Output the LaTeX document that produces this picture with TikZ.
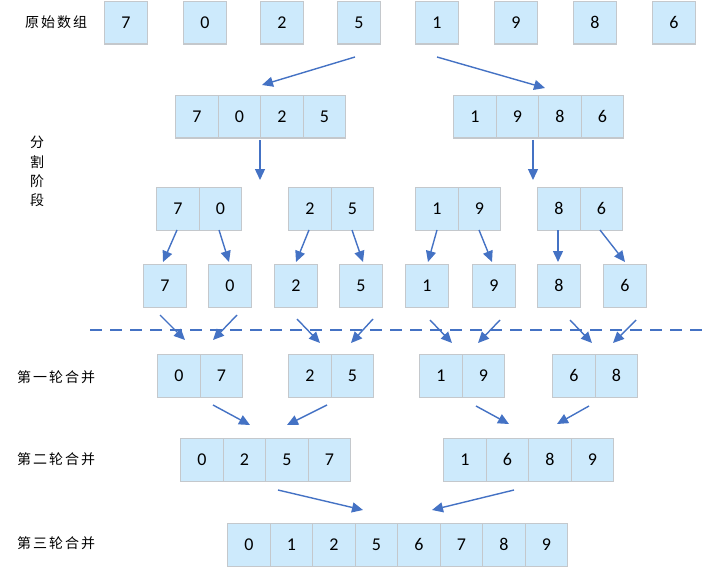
\documentclass[tikz,border=0pt]{standalone}
\usepackage{fontspec}
\setmainfont{Carlito}
\newfontfamily\cjk[LetterSpace=14]{Noto Sans CJK SC}
\usetikzlibrary{arrows.meta}
\definecolor{cellfill}{RGB}{205,234,252}
\definecolor{cellborder}{RGB}{196,200,204}
\definecolor{arrblue}{RGB}{68,114,196}
\tikzset{
  cell/.style={draw=cellborder, fill=cellfill, line width=1.2pt, minimum width=42.5pt, minimum height=42.5pt, inner sep=0pt, anchor=north west, font=\fontsize{18}{18}\selectfont},
  arr/.style={draw=arrblue, line width=1.4pt, -{Triangle[length=11pt,width=10pt]}},
  lbl/.style={font=\cjk\fontsize{14}{14}\selectfont, anchor=west, inner sep=0pt},
  vlbl/.style={font=\cjk\fontsize{14}{14}\selectfont, inner sep=0pt}
}
\begin{document}
\begin{tikzpicture}[x=1pt,y=-1pt]
\useasboundingbox (0,0) rectangle (704,567);
% labels
\node[lbl] (L0) at (25,22) {原始数组};
\node[vlbl] (V1) at (37,142) {分};
\node[vlbl] (V2) at (37,162) {割};
\node[vlbl] (V3) at (37,181) {阶};
\node[vlbl] (V4) at (37,200) {段};
\node[lbl] (L1) at (17,377) {第一轮合并};
\node[lbl] (L2) at (17,459) {第二轮合并};
\node[lbl] (L3) at (17,543) {第三轮合并};
% row 1
\foreach \x/\v [count=\i] in {104/7,183/0,260/2,337/5,415/1,494/9,573/8,652/6}
  \node[cell] (a\i) at (\x,1) {\v};
% row 2
\foreach \x/\v [count=\i] in {175/7,217.5/0,260/2,302.5/5,453/1,495.5/9,538/8,580.5/6}
  \node[cell] (b\i) at (\x,95) {\v};
% row 3
\foreach \x/\v [count=\i] in {156/7,198.5/0,288/2,330.5/5,415/1,457.5/9,537/8,579.5/6}
  \node[cell] (c\i) at (\x,187) {\v};
% row 4
\foreach \x/\v [count=\i] in {143/7,208/0,274/2,339/5,405/1,472/9,537/8,603/6}
  \node[cell] (d\i) at (\x,264) {\v};
% row 5
\foreach \x/\v [count=\i] in {157/0,199.5/7,288/2,330.5/5,419/1,461.5/9,552/6,594.5/8}
  \node[cell] (e\i) at (\x,354) {\v};
% row 6
\foreach \x/\v [count=\i] in {180/0,222.5/2,265/5,307.5/7,443/1,485.5/6,528/8,570.5/9}
  \node[cell] (f\i) at (\x,438) {\v};
% row 7
\foreach \v [count=\i] in {0,1,2,5,6,7,8,9}
  \node[cell] (g\i) at ({227+(\i-1)*42.5},523) {\v};
% dashed separator
\coordinate (dl) at (90,330);
\coordinate (dr) at (702,330);
\draw[arrblue, line width=1.4pt, dash pattern=on 12pt off 8pt] (dl) -- (dr);
% arrows
\foreach \n/\a/\b/\c/\d in {
  1/355/57/262/85, 2/437/57/545/88,
  3/260/140/260/180, 4/533/140/533/180,
  5/177/230/163/262, 6/219/230/229/262, 7/309/230/296/262, 8/352/230/363/262,
  9/437/230/428/262, 10/479/230/492/262, 11/558/230/558/262, 12/600/230/625/262,
  13/160/315/185/340, 14/237/315/213/340, 15/297/319/320/343, 16/373/319/351/343,
  17/430/320/452/343, 18/500/320/478/343, 19/570/320/592/343, 20/636/320/613/343,
  21/213/405/250/425, 22/327/405/287/425, 23/476/406/509/424, 24/589/406/557/424,
  25/278/490/363/510, 26/514/490/432/510}
{
  \coordinate (s\n) at (\a,\b);
  \coordinate (t\n) at (\c,\d);
  \draw[arr] (s\n) -- (t\n);
}
\end{tikzpicture}
\end{document}
